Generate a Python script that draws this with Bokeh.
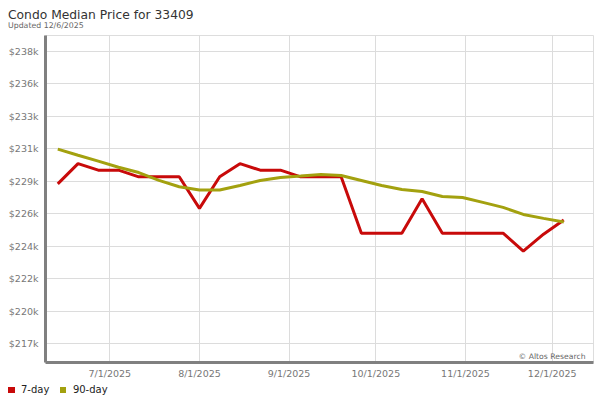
import pandas as pd
from datetime import datetime
from bokeh.plotting import figure
from bokeh.layouts import column
from bokeh.models import (Range1d, Label, MonthsTicker, Div,
                          DatetimeTickFormatter, CustomJSTickFormatter, FixedTicker,
                          ColumnDataSource)
from bokeh.embed import file_html
from bokeh.resources import INLINE

# ---- data ----
week_ending = ["2025-06-13", "2025-06-20", "2025-06-27", "2025-07-04", "2025-07-11",
               "2025-07-18", "2025-07-25", "2025-08-01", "2025-08-08", "2025-08-15",
               "2025-08-22", "2025-08-29", "2025-09-05", "2025-09-12", "2025-09-19",
               "2025-09-26", "2025-10-03", "2025-10-10", "2025-10-17", "2025-10-24",
               "2025-10-31", "2025-11-07", "2025-11-14", "2025-11-21", "2025-11-28",
               "2025-12-05"]
price_7day = [229000, 230430, 229970, 229970, 229500, 229500, 229500, 227270, 229500,
              230430, 229970, 229970, 229500, 229500, 229500, 225510, 225510, 225510,
              227950, 225510, 225510, 225510, 225510, 224240, 225440, 226440]
price_90day = [231460, 231030, 230610, 230180, 229800, 229250, 228800, 228570, 228570,
               228880, 229240, 229450, 229550, 229660, 229590, 229240, 228880, 228600,
               228460, 228110, 228040, 227690, 227340, 226840, 226560, 226300]
y_ticks = [217700, 220000, 222300, 224600, 226900, 229200, 231500, 233800, 236100, 238400]
series_names = ["7-day", "90-day"]
series_colors = ["#c80a0a", "#a3a10f"]

title_text = "Condo Median Price for 33409"
updated_text = "Updated 12/6/2025"
credit_text = "\u00a9 Altos Research"

FONT = "DejaVu Sans"

src = ColumnDataSource(dict(date=pd.to_datetime(week_ending),
                            p7=price_7day, p90=price_90day))

# ---- title block ----
title_div = Div(
    text=(f'<div style="position:relative;width:600px;height:34px;font-family:\'{FONT}\';">'
          f'<div style="position:absolute;left:8px;top:9.2px;font-size:12.3px;line-height:1;'
          f'color:#333333;white-space:nowrap;">{title_text}</div>'
          f'<div style="position:absolute;left:8px;top:22.3px;font-size:7.8px;line-height:1;'
          f'color:#666666;white-space:nowrap;">{updated_text}</div></div>'),
    width=600, height=34, margin=0)

# ---- chart ----
p = figure(width=600, height=347, output_backend="svg", toolbar_location=None,
           x_axis_type="datetime", title=None,
           x_range=Range1d(datetime(2025, 6, 8, 18, 0), datetime(2025, 12, 15, 6, 43)),
           y_range=Range1d(216360, 239500),
           min_border_left=45, min_border_right=7, min_border_top=1, min_border_bottom=17,
           margin=0)

p.background_fill_color = "white"
p.border_fill_color = "white"
p.outline_line_color = "#dddddd"

for ax in (p.xaxis[0], p.yaxis[0]):
    ax.axis_line_color = "#808080"
    ax.axis_line_width = 3
    ax.major_tick_line_color = None
    ax.minor_tick_line_color = None
    ax.major_tick_out = 0
    ax.major_tick_in = 0
    ax.minor_tick_out = 0
    ax.minor_tick_in = 0
    ax.major_label_text_color = "#777777"
    ax.major_label_text_font = FONT
    ax.major_label_text_font_size = "9.5px"

p.xaxis.ticker = MonthsTicker(months=list(range(1, 13)))
p.xaxis.formatter = DatetimeTickFormatter(months="%-m/%-d/%Y", days="%-m/%-d/%Y")
p.xaxis.major_label_standoff = 5

p.yaxis.ticker = FixedTicker(ticks=y_ticks)
p.yaxis.formatter = CustomJSTickFormatter(code="return '$' + Math.floor(tick/1000) + 'k';")
p.yaxis.major_label_standoff = 7

p.xgrid.grid_line_color = "#dcdcdc"
p.ygrid.grid_line_color = "#dcdcdc"

p.line("date", "p7", source=src, line_color=series_colors[0], line_width=3)
p.line("date", "p90", source=src, line_color=series_colors[1], line_width=3)

p.add_layout(Label(x=540, y=6.3, x_units="screen", y_units="screen", text=credit_text,
                   text_font=FONT, text_font_size="7.7px", text_color="#666666",
                   text_baseline="alphabetic", text_align="right"))

# ---- legend strip below the chart ----
legend_items = "".join(
    f'<span style="display:inline-block;width:6.5px;height:6.5px;background:{c};'
    f'margin-right:6.5px;vertical-align:middle;"></span>'
    f'<span style="display:inline-block;margin-right:10.5px;vertical-align:middle;">{n}</span>'
    for n, c in zip(series_names, series_colors))
legend_div = Div(
    text=(f'<div style="width:600px;height:19px;padding-left:8px;box-sizing:border-box;'
          f'font-family:\'{FONT}\';font-size:10px;line-height:12px;color:#222222;'
          f'white-space:nowrap;">{legend_items}</div>'),
    width=600, height=19, margin=0)

layout = column(title_div, p, legend_div, spacing=0)

open("out.html", "w").write(file_html(layout, INLINE))
